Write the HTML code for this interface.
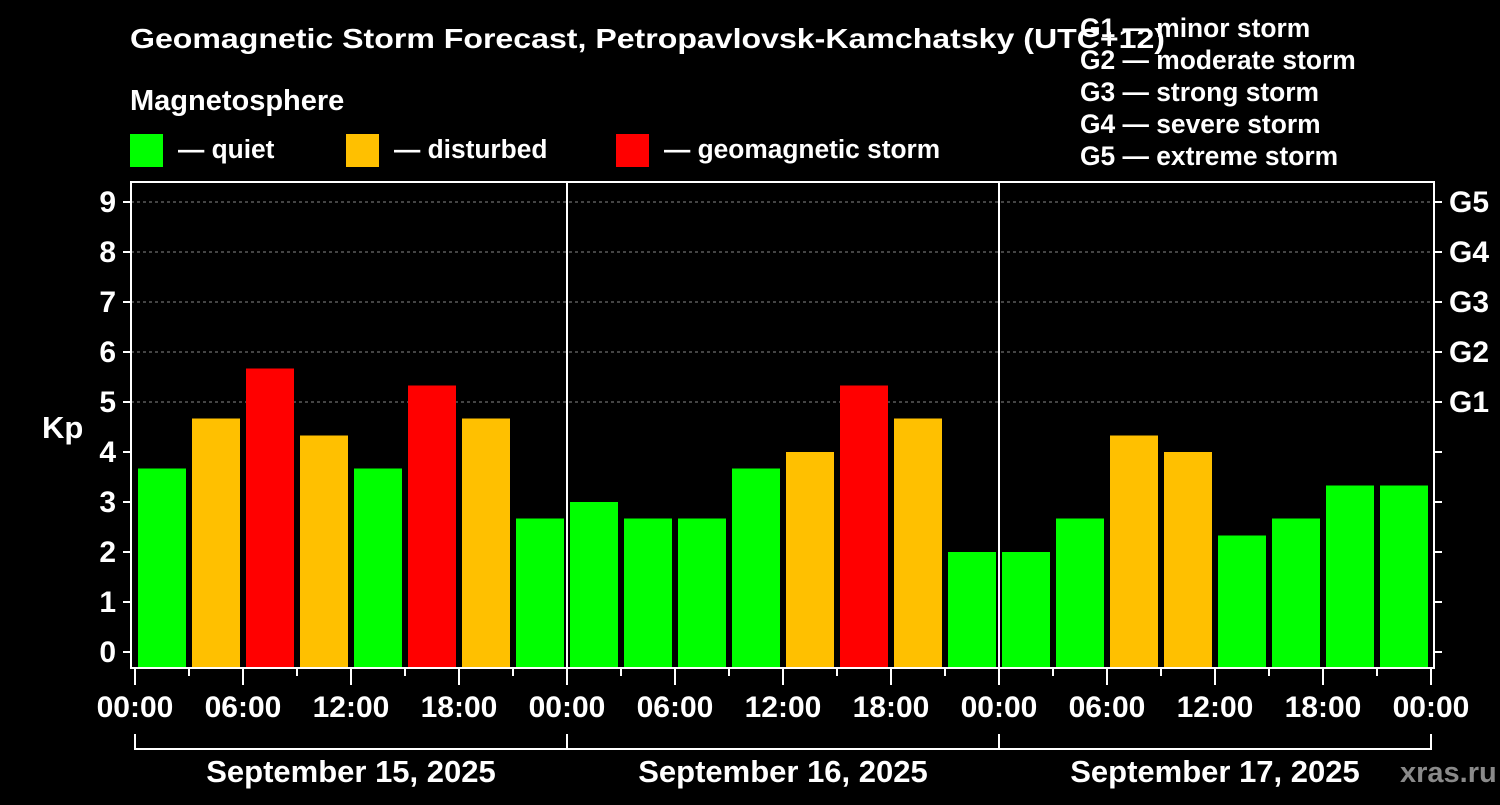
<!DOCTYPE html>
<html><head><meta charset="utf-8"><style>
body{margin:0;background:#000;width:1500px;height:800px;overflow:hidden}
svg text{font-family:"Liberation Sans",sans-serif;font-weight:bold;fill:#fff}
</style></head><body>
<svg id="chart" width="1500" height="800" xmlns="http://www.w3.org/2000/svg">
<rect width="1500" height="800" fill="#000"/>
<text x="130" y="48" font-size="28" textLength="1035" lengthAdjust="spacingAndGlyphs">Geomagnetic Storm Forecast, Petropavlovsk-Kamchatsky (UTC+12)</text>
<text x="130" y="110" font-size="29">Magnetosphere</text>
<g><rect x="130" y="134" width="33" height="33" fill="#00ff00"/><text x="178" y="158" font-size="26.3">— quiet</text></g>
<g><rect x="346" y="134" width="33" height="33" fill="#ffc000"/><text x="394" y="158" font-size="26.3">— disturbed</text></g>
<g><rect x="616" y="134" width="33" height="33" fill="#ff0000"/><text x="664" y="158" font-size="26.3">— geomagnetic storm</text></g>
<g font-size="26.4">
<text x="1080" y="37">G1 — minor storm</text>
<text x="1080" y="69">G2 — moderate storm</text>
<text x="1080" y="101">G3 — strong storm</text>
<text x="1080" y="133">G4 — severe storm</text>
<text x="1080" y="165">G5 — extreme storm</text>
</g>
<text x="42" y="438" font-size="31">Kp</text>
<g id="plot"></g>
<text x="1400" y="782" font-size="29" style="fill:#8a8a8a">xras.ru</text>
</svg>
<script>
const kpValues = [3.67,4.67,5.67,4.33,3.67,5.33,4.67,2.67, 3,2.67,2.67,3.67,4,5.33,4.67,2, 2,2.67,4.33,4,2.33,2.67,3.33,3.33];
const dayLabels = ["September 15, 2025","September 16, 2025","September 17, 2025"];
const hourLabels = ["00:00","06:00","12:00","18:00"];
const gLabels = ["G1","G2","G3","G4","G5"];
const kpTicks = [0,1,2,3,4,5,6,7,8,9];

const NS="http://www.w3.org/2000/svg";
const g=document.getElementById('plot');
const X0=135, BAR=54, L=131, R=1434, T=182, B=668;
const y=v=>652-v*50;
const x=i=>X0+i*BAR;
function el(t,a){const e=document.createElementNS(NS,t);for(const k in a)e.setAttribute(k,a[k]);g.appendChild(e);return e;}
for(let v=5;v<=9;v++){const e=el('line',{x1:L,x2:R,y1:y(v),y2:y(v),stroke:'#888','stroke-dasharray':'3,3','stroke-width':1});

}
kpValues.forEach((v,i)=>{const c=v>=5?'#ff0000':(v>=4?'#ffc000':'#00ff00');
const e=el('rect',{x:x(i)+3,y:y(v),width:48,height:B-y(v),fill:c});

});
const fr=el('rect',{x:L,y:T,width:R-L,height:B-T,fill:'none',stroke:'#fff','stroke-width':2});


for(let d=1;d<dayLabels.length;d++){const e=el('line',{x1:x(d*8),x2:x(d*8),y1:T,y2:B,stroke:'#fff','stroke-width':2});

}
kpTicks.forEach(v=>{el('line',{x1:L-8,x2:L,y1:y(v),y2:y(v),stroke:'#fff','stroke-width':2});
el('line',{x1:R,x2:R+8,y1:y(v),y2:y(v),stroke:'#fff','stroke-width':2});
const t=el('text',{x:116,y:y(v)+10,'font-size':30,'text-anchor':'end'});t.textContent=v;

});
gLabels.forEach((s,i)=>{const t=el('text',{x:1449,y:y(5+i)+10,'font-size':30});t.textContent=s;

});
for(let i=0;i<=kpValues.length;i++){const long=i%2===0;
el('line',{x1:x(i),x2:x(i),y1:B,y2:B+(long?17:8),stroke:'#fff','stroke-width':2});
if(long){const t=el('text',{x:x(i),y:717,'font-size':30,'text-anchor':'middle'});t.textContent=hourLabels[(i/2)%4];

}}
dayLabels.forEach((s,d)=>{const a=x(d*8),b=x(d*8+8);
el('polyline',{points:`${a},734 ${a},749 ${b},749 ${b},734`,fill:'none',stroke:'#fff','stroke-width':2});
const t=el('text',{x:(a+b)/2,y:782,'font-size':31,'text-anchor':'middle'});t.textContent=s;

});
</script>
</body></html>
